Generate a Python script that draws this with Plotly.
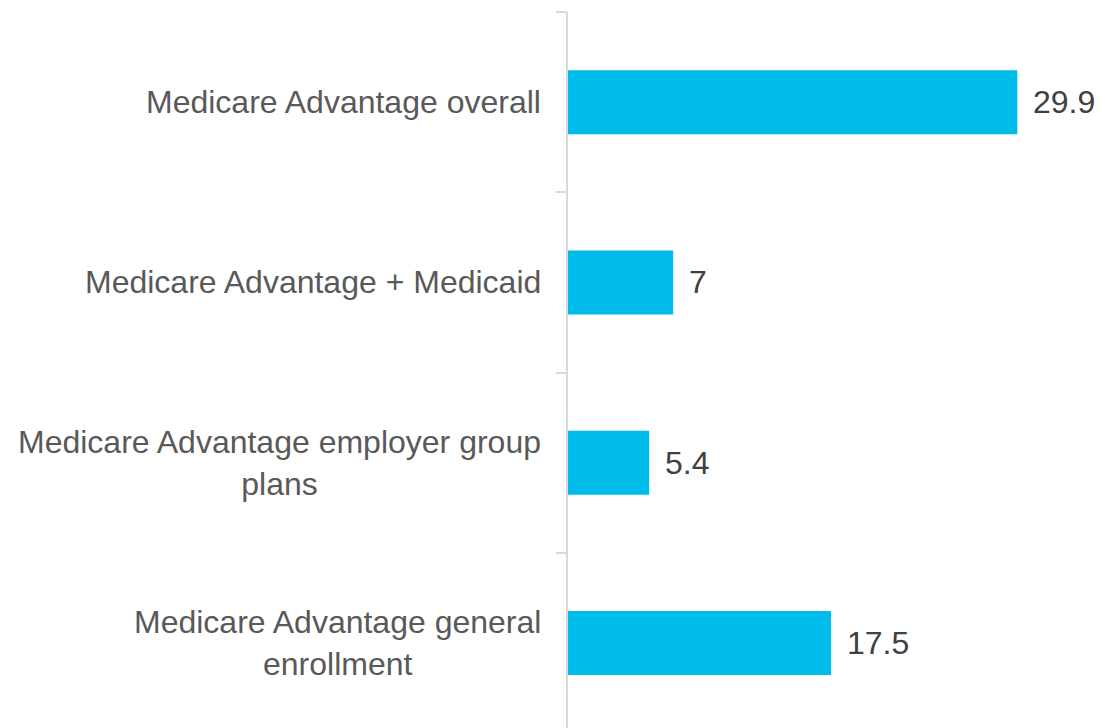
import plotly.graph_objects as go

# Medicare Advantage segments and their values
categories = [
    "Medicare Advantage overall",
    "Medicare Advantage + Medicaid",
    "Medicare Advantage employer group<br>plans",
    "Medicare Advantage general<br>enrollment",
]
values = [29.9, 7, 5.4, 17.5]
value_labels = ["29.9", "7", "5.4", "17.5"]

BAR_COLOR = "#00BCEB"
AXIS_COLOR = "#D9D9D9"
LABEL_COLOR = "#595959"
VALUE_COLOR = "#404040"
FONT = "Liberation Sans, Arial, sans-serif"

fig = go.Figure()
fig.add_trace(go.Bar(
    x=values,
    y=categories,
    orientation="h",
    marker=dict(color=BAR_COLOR, line=dict(width=0)),
    hoverinfo="x+y",
))

# value labels just past the end of each bar
for cat, val, lab in zip(categories, values, value_labels):
    fig.add_annotation(
        x=val, y=cat, text=lab, showarrow=False,
        xanchor="left", yanchor="middle", xshift=14,
        font=dict(family=FONT, size=32, color=VALUE_COLOR),
    )

# category labels, centred line by line, to the left of the axis
for cat in categories:
    fig.add_annotation(
        x=0, xref="paper", y=cat, text=cat, showarrow=False,
        xanchor="right", yanchor="middle", align="center", xshift=-25,
        font=dict(family=FONT, size=32, color=LABEL_COLOR),
    )

fig.update_layout(
    width=1101, height=728,
    margin=dict(l=568, r=7, t=12, b=0),
    paper_bgcolor="white", plot_bgcolor="white",
    bargap=0.645,
    showlegend=False,
    font=dict(family=FONT, size=32, color=LABEL_COLOR),
)
fig.update_xaxes(
    range=[0, 35], visible=False, showgrid=False, zeroline=False,
)
fig.update_yaxes(
    type="category",
    range=[3.472, -0.5],
    showline=True, linecolor=AXIS_COLOR, linewidth=2,
    ticks="outside", tickson="boundaries", ticklen=10,
    tickcolor=AXIS_COLOR, tickwidth=2,
    showticklabels=False,
    showgrid=False, zeroline=False,
)

fig.write_html("out.html")
